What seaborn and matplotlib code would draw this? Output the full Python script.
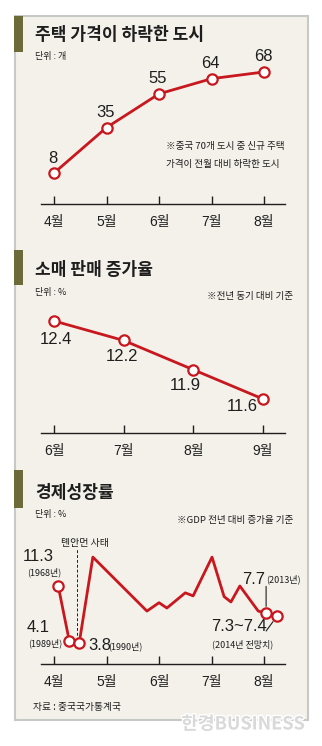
import matplotlib
matplotlib.use("Agg")
import matplotlib.pyplot as plt
import matplotlib.patches as patches
import matplotlib.patheffects as pe
import seaborn as sns
import pandas as pd

sns.set_theme(style="white")
KR = ["Noto Sans CJK KR", "DejaVu Sans"]
NUM = ["Liberation Sans Narrow", "Liberation Sans", "Noto Sans CJK KR"]
plt.rcParams["font.family"] = KR

# ---- data ----
house_months = ["4월", "5월", "6월", "7월", "8월"]
house_cities = [8, 35, 55, 64, 68]

retail_months = ["6월", "7월", "8월", "9월"]
retail_growth = [12.4, 12.2, 11.9, 11.6]

gdp_ticks = ["4월", "5월", "6월", "7월", "8월"]
gdp_pos = [0.08, 0.29, 0.48, 0.74, 1.77, 2.00, 2.15, 2.50, 2.65, 3.01,
           3.24, 3.37, 3.54, 3.89, 4.04, 4.25]
gdp_growth = [11.3, 4.1, 3.8, 15.1, 8.0, 9.1, 8.4, 10.4, 10.0, 15.1,
              9.9, 9.2, 11.3, 8.0, 7.7, 7.35]
gdp_marked = [0, 1, 2, 14, 15]

W, H = 322, 746
RED = "#c8171e"
INK = "#1e1e1e"
BG = "#f4f1ea"
OLIVE = "#6c6a38"

fig = plt.figure(figsize=(W / 100, H / 100), dpi=100)
fig.patch.set_facecolor("white")


def fx(x):
    return x / W


def fy(y):
    return 1 - y / H


def rect(x0, y0, x1, y1, **kw):
    fig.patches.append(patches.Rectangle((fx(x0), fy(y1)), (x1 - x0) / W, (y1 - y0) / H,
                                         transform=fig.transFigure, figure=fig, zorder=-10, **kw))


def text(x, y, s, size, ha="left", va="center", family=KR, **kw):
    fig.text(fx(x), fy(y), s, fontsize=size, ha=ha, va=va, family=family, color=INK, **kw)


def axes_at(x0, y0, x1, y1):
    ax = fig.add_axes([fx(x0), fy(y1), (x1 - x0) / W, (y1 - y0) / H])
    ax.set_facecolor("none")
    ax.set_zorder(5)
    for s in ["top", "right", "left"]:
        ax.spines[s].set_visible(False)
    ax.spines["bottom"].set_color(INK)
    ax.spines["bottom"].set_linewidth(1.0)
    ax.tick_params(axis="x", direction="in", length=6, width=1, color=INK, pad=8,
                   labelsize=10, labelcolor=INK, bottom=True)
    return ax


def finish(ax, xlim, ylim, labels):
    ax.set_xlim(*xlim)
    ax.set_ylim(*ylim)
    ax.set_xticks(range(len(labels)), labels, family=NUM)
    ax.set_yticks([])
    ax.set_xlabel("")
    ax.set_ylabel("")


# background panel and title tabs
rect(15, 16, 308, 720, facecolor=BG, edgecolor="#c6cac7", linewidth=1.5)
for y0, y1 in [(16, 52), (250, 285), (470, 508)]:
    rect(14, y0, 23, y1, facecolor=OLIVE, edgecolor="none")

line_kw = dict(color=RED, linewidth=2.0)
mark_kw = dict(marker="o", s=55, facecolor="white", edgecolor=RED, linewidth=1.6, zorder=5)

# ---- panel 1 ----
text(35, 35, "주택 가격이 하락한 도시", 12.3, weight="bold")
text(35, 57, "단위 : 개", 6.5)
ax1 = axes_at(41, 60, 285, 204)
d1 = pd.DataFrame({"x": range(len(house_months)), "v": house_cities})
sns.lineplot(data=d1, x="x", y="v", ax=ax1, **line_kw)
sns.scatterplot(data=d1, x="x", y="v", ax=ax1, **mark_kw)
finish(ax1, (-0.248, 4.4), (-10.4, 75.1), house_months)
for i, v in enumerate(house_cities):
    ax1.annotate(str(v), (i, v), xytext=(-1, 15), textcoords="offset pixels",
                 ha="center", va="center", fontsize=12, family=NUM, color=INK)
text(166, 147, "※중국 70개 도시 중 신규 주택", 6.9)
text(166, 164, "가격이 전월 대비 하락한 도시", 6.9)

# ---- panel 2 ----
text(35, 270, "소매 판매 증가율", 12.3, weight="bold")
text(35, 292, "단위 : %", 6.5)
text(293, 296, "※전년 동기 대비 기준", 6.9, ha="right")
ax2 = axes_at(41, 300, 285, 433)
d2 = pd.DataFrame({"x": range(len(retail_months)), "v": retail_growth})
sns.lineplot(data=d2, x="x", y="v", ax=ax2, **line_kw)
sns.scatterplot(data=d2, x="x", y="v", ax=ax2, **mark_kw)
finish(ax2, (-0.187, 3.316), (11.251, 12.615), retail_months)
offs2 = [(2, -19), (-2, -16), (-8, -16), (-21, -8)]
for i, (v, o) in enumerate(zip(retail_growth, offs2)):
    ax2.annotate(f"{v:.1f}", (i, v), xytext=o, textcoords="offset pixels",
                 ha="center", va="center", fontsize=12, family=NUM, color=INK)

# ---- panel 3 ----
text(35, 493, "경제성장률", 12.3, weight="bold")
text(35, 515, "단위 : %", 6.5)
text(293, 521, "※GDP 전년 대비 증가율 기준", 6.9, ha="right")
ax3 = axes_at(41, 540, 285, 664)
d3 = pd.DataFrame({"x": gdp_pos, "v": gdp_growth})
sns.lineplot(data=d3, x="x", y="v", ax=ax3, sort=False, **line_kw)
sns.scatterplot(data=d3.iloc[gdp_marked], x="x", y="v", ax=ax3, **mark_kw)
finish(ax3, (-0.248, 4.4), (1.037, 17.35), gdp_ticks)

# Tiananmen marker
ax3.plot([0.44, 0.44], [3.6, 16.2], color=INK, lw=0.7, ls=(0, (3, 2)), clip_on=False)
ax3.annotate("톈안먼 사태", (0.44, 16.2), xytext=(8, 1), textcoords="offset pixels",
             ha="center", va="bottom", fontsize=7.2, color=INK, family=KR,
             annotation_clip=False)


# value callouts
def callout(i, dx, dy, s, ha="center", size=12):
    ax3.annotate(s, (gdp_pos[i], gdp_growth[i]), xytext=(dx, dy), textcoords="offset pixels",
                 ha=ha, va="center", fontsize=size, family=NUM, color=INK)


def note(i, dx, dy, s, ha="center"):
    ax3.annotate(s, (gdp_pos[i], gdp_growth[i]), xytext=(dx, dy), textcoords="offset pixels",
                 ha=ha, va="center", fontsize=6.5, family=KR, color=INK)


callout(0, -20, 29, f"{gdp_growth[0]:.1f}")
note(0, -14, 14, "(1968년)")
callout(1, -31, 13, f"{gdp_growth[1]:.1f}")
note(1, -24, -3, "(1989년)")
callout(2, 9, -3, f"{gdp_growth[2]:.1f}", ha="left")
note(2, 29, -3, "(1990년)", ha="left")
callout(14, -24, 34, f"{gdp_growth[14]:.1f}", ha="left")
note(14, 0, 34, "(2013년)", ha="left")
ax3.annotate("", (gdp_pos[14], gdp_growth[14]), xytext=(0, 27), textcoords="offset pixels",
             arrowprops=dict(arrowstyle="-", color=INK, lw=0.8, shrinkA=0, shrinkB=5))
callout(15, -66, -10, "7.3~7.4", ha="left")
note(15, -65, -28, "(2014년 전망치)", ha="left")
ax3.annotate("", (gdp_pos[15], gdp_growth[15]), xytext=(-11, -15), textcoords="offset pixels",
             arrowprops=dict(arrowstyle="-", color=INK, lw=0.8, shrinkA=0, shrinkB=5))

text(33, 707, "자료 : 중국국가통계국", 7)

fig.text(fx(305), fy(724), "한경BUSINESS", fontsize=13, weight="bold", ha="right", va="center",
         family=KR, color="#d9d9d9",
         path_effects=[pe.withStroke(linewidth=2, foreground="white")])

fig.savefig("out.png", dpi=100, facecolor="white")
